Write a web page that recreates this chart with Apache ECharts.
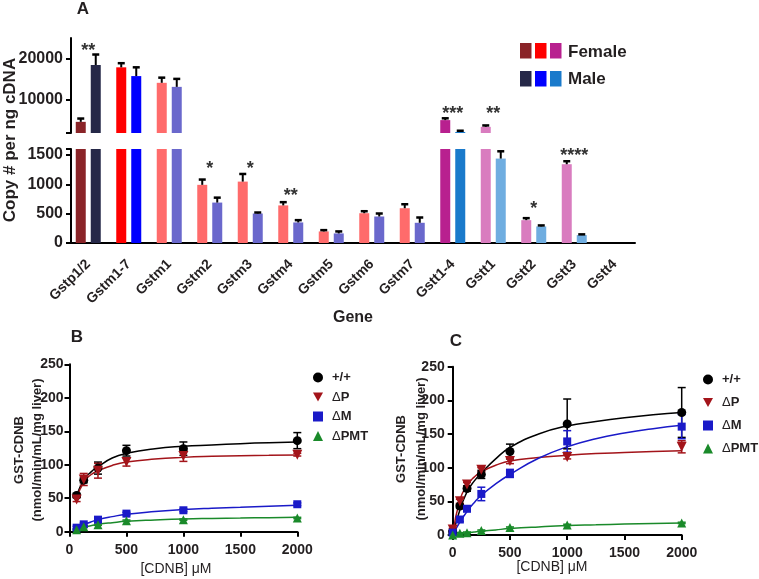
<!DOCTYPE html>
<html><head><meta charset="utf-8">
<script src="https://cdn.jsdelivr.net/npm/echarts@6/dist/echarts.min.js"></script>
<style>html,body{margin:0;padding:0;background:#fff}#c{width:759px;height:579px}</style>
</head><body><div id="c"></div>
<script>
// ---------- Panel A data ----------
const genes = ['Gstp1/2','Gstm1-7','Gstm1','Gstm2','Gstm3','Gstm4','Gstm5','Gstm6','Gstm7','Gstt1-4','Gstt1','Gstt2','Gstt3','Gstt4'];
const femaleCopies = [4700,17900,14150,990,1045,640,197,507,592,5120,3490,389,1341,0];
const femaleErr    = [800,1000,1250,90,130,55,22,34,68,440,340,34,51,0];
const maleCopies   = [18460,15780,13170,688,502,350,163,451,344,2250,1437,282,135,0];
const maleErr      = [2540,2120,1930,84,17,39,34,51,90,300,124,17,12,0];
const starText  = ['**','','','*','*','**','','','','***','**','*','****',''];
const starValue = [21950,0,0,1265,1265,793,0,0,0,6590,6590,584,1486,0];
const topTicks = [10000,20000];
const bottomTicks = [0,500,1000,1500];
const femaleColors = ['#8a2428','#ff0000','#ff6b6b','#ff6b6b','#ff6b6b','#ff6b6b','#ff6b6b','#ff6b6b','#ff6b6b','#b8208f','#d97cbf','#d97cbf','#d97cbf','#d97cbf'];
const maleColors   = ['#262848','#0000ff','#6a68cc','#6a68cc','#6a68cc','#6a68cc','#6a68cc','#6a68cc','#6a68cc','#1a7acb','#6fade0','#6fade0','#6fade0','#6fade0'];

// ---------- Panel B data ----------
const concB = [62.5,125,250,500,1000,2000];
const bWT = [54,77,95,121,124,136],   bWTerr = [3,4,9,8,10,12];
const bP  = [48,78,91,104,113,115],   bPerr  = [3,9,11,6,8,2];
const bM  = [6,11,18,27,32,41],       bMerr  = [2,2,2,2,2,2];
const bPMT = [3,7.5,10.5,16.5,18,20.5], bPMTerr = [1,1,1,1,1,1];
const fitXB = [62.5,125,187.5,250,375,500,750,1000,1250,1500,1750,2000];
const bFitWT  = [54,77,89,97,110,117,124,127.5,129.5,131.5,133,134];
const bFitP   = [50,74,85,91,99,104,108.5,111,112.5,113.5,114,114.5];
const bFitM   = [5,10,14.5,18,22.5,26,30,33,35,36.5,38,39.5];
const bFitPMT = [2.5,6.5,9,11,13.5,15.5,17.5,19,19.8,20.4,21,21.5];

// ---------- Panel C data ----------
const concC = [0,62.5,125,250,500,1000,2000];
const cWT = [5,43,69,90,124,165,182],      cWTerr = [2,3,4,6,11,37,37];
const cP  = [8,50,75,97,110,116,131],      cPerr  = [2,3,3,3,4,3,9];
const cM  = [3.5,23,39,61,91.5,139,161],   cMerr  = [2,3,4,10,6,16,18];
const cPMT = [0,2.5,3.5,6.5,11,15,18],     cPMTerr = [1,1,1,1,1,1,1];
const fitXC = [0,62.5,125,187.5,250,375,500,750,1000,1250,1500,1750,2000];
const cFitWT  = [0,37,64,80,92,113,130,150,162,168.5,174,178.5,182];
const cFitP   = [0,52,74,86,94,103.5,110,115,118.5,121,122.5,124,125];
const cFitM   = [0,19,35,48,59,76,90,114,131,143,151.5,158,163];
const cFitPMT = [0,1.5,3,4.3,5.5,7.6,9.5,12,14,15.2,16.3,17.2,18];

const seriesNames = ['+/+','\u0394P','\u0394M','\u0394PMT'];
const seriesColors = ['#000000','#a3141a','#1a1ac8','#1a8a2a'];

// ---------- helpers ----------
const TXT = '#231f20';
const FONT = '"Liberation Sans", Arial, sans-serif';
const axisLineStyle = {lineStyle:{color:'#000', width:2}};
const axisTickStyle = {lineStyle:{color:'#000', width:2}, length:5, inside:false};
const lblStyle = {color:TXT, fontSize:15, fontWeight:'bold', fontFamily:FONT, formatter: v => String(v)};
const triDown = 'path://M0,0L10,0L5,9Z';

function clampBar(params, api, off) {
  const ci = api.value(0), v = api.value(1), e = api.value(2);
  if (!(e > 0)) return null;
  const cs = params.coordSys;
  const yMin = cs.y, yMax = cs.y + cs.height;
  const b = api.coord([ci, v]), t = api.coord([ci, v + e]);
  let y1 = b[1], y2 = t[1];
  if (y2 > yMax || y1 < yMin) return null;
  const x = b[0] + off;
  const kids = [];
  const showCap = y2 >= yMin;
  y1 = Math.min(y1, yMax); y2 = Math.max(y2, yMin);
  kids.push({type:'line', shape:{x1:x, y1:y1, x2:x, y2:y2}, style:{stroke:'#000', lineWidth:2}});
  if (showCap) kids.push({type:'line', shape:{x1:x-3.5, y1:y2, x2:x+3.5, y2:y2}, style:{stroke:'#000', lineWidth:2.5}});
  return {type:'group', children:kids};
}
function errSeriesA(vals, errs, off, gi) {
  return {
    type:'custom', xAxisIndex:gi, yAxisIndex:gi, z:5,
    data: vals.map((v,i)=>[i, v, errs[i]]),
    renderItem: (p, api) => clampBar(p, api, off)
  };
}
function barSeries(vals, colors, gi) {
  return {
    type:'bar', xAxisIndex:gi, yAxisIndex:gi, barWidth:10, barGap:'50%', clip:true,
    data: vals.map((v,i)=>({value:v, itemStyle:{color:colors[i]}}))
  };
}
function starSeries(gi, top) {
  const d = [];
  genes.forEach((g,i)=>{ if (starText[i] && ((starValue[i] > 1600) === top)) d.push([i, starValue[i]]); });
  return {
    type:'custom', xAxisIndex:gi, yAxisIndex:gi, z:6, data:d,
    renderItem: (p, api) => {
      const ci = api.value(0);
      const pt = api.coord([ci, api.value(1)]);
      return {type:'text', x:pt[0], y:pt[1], style:{text:starText[ci], fill:'#333', font:'bold 18px ' + FONT, align:'center', verticalAlign:'middle', textAlign:'center', textVerticalAlign:'middle'}};
    }
  };
}
function kinSeries(gi, xs, ys, errs, fx, fy, k) {
  const col = seriesColors[k];
  const sym = ['circle','triangle','rect','triangle'][k];
  const size = [9,10,8,9][k];
  return [
    {type:'line', name:'fit'+k+'_'+gi, xAxisIndex:gi, yAxisIndex:gi, smooth:0.5, showSymbol:false, symbol:'none',
     lineStyle:{color:col, width:1.5}, data: fx.map((x,i)=>[x, fy[i]]), z:2, silent:true},
    {type:'custom', xAxisIndex:gi, yAxisIndex:gi, z:3, data: xs.map((x,i)=>[x, ys[i], errs[i]]),
     renderItem:(p, api)=>{
       const x = api.value(0), y = api.value(1), e = api.value(2);
       const a = api.coord([x, y + e]), b = api.coord([x, Math.max(0, y - e)]);
       return {type:'group', children:[
         {type:'line', shape:{x1:a[0], y1:a[1], x2:b[0], y2:b[1]}, style:{stroke:col, lineWidth:1.5}},
         {type:'line', shape:{x1:a[0]-4, y1:a[1], x2:a[0]+4, y2:a[1]}, style:{stroke:col, lineWidth:1.5}},
         {type:'line', shape:{x1:b[0]-4, y1:b[1], x2:b[0]+4, y2:b[1]}, style:{stroke:col, lineWidth:1.5}}
       ]};
     }},
    {type:'scatter', name:seriesNames[k], xAxisIndex:gi, yAxisIndex:gi, symbol:sym, symbolRotate: k===1 ? 180 : 0,
     symbolSize:size, itemStyle:{color:col, opacity:1}, data: xs.map((x,i)=>[x, ys[i]]), z:4}
  ];
}

const series = [
  barSeries(femaleCopies, femaleColors, 0), barSeries(maleCopies, maleColors, 0),
  barSeries(femaleCopies, femaleColors, 1), barSeries(maleCopies, maleColors, 1),
  errSeriesA(femaleCopies, femaleErr, -7.5, 0), errSeriesA(maleCopies, maleErr, 7.5, 0),
  errSeriesA(femaleCopies, femaleErr, -7.5, 1), errSeriesA(maleCopies, maleErr, 7.5, 1),
  starSeries(0, true), starSeries(1, false),
  ...kinSeries(2, concB, bWT, bWTerr, fitXB, bFitWT, 0),
  ...kinSeries(2, concB, bP, bPerr, fitXB, bFitP, 1),
  ...kinSeries(2, concB, bM, bMerr, fitXB, bFitM, 2),
  ...kinSeries(2, concB, bPMT, bPMTerr, fitXB, bFitPMT, 3),
  ...kinSeries(3, concC, cWT, cWTerr, fitXC, cFitWT, 0),
  ...kinSeries(3, concC, cP, cPerr, fitXC, cFitP, 1),
  ...kinSeries(3, concC, cM, cMerr, fitXC, cFitM, 2),
  ...kinSeries(3, concC, cPMT, cPMTerr, fitXC, cFitPMT, 3)
];

const legendData = [
  {name:seriesNames[0], icon:'circle'}, {name:seriesNames[1], icon:triDown},
  {name:seriesNames[2], icon:'rect'}, {name:seriesNames[3], icon:'triangle'}
];
const legendText = {color:TXT, fontSize:13, fontWeight:'bold', fontFamily:FONT, padding:[0,0,0,4],
  rich:{d:{fontSize:13, fontWeight:'normal', fontFamily:FONT, color:TXT}, b:{fontSize:13, fontWeight:'bold', fontFamily:FONT, color:TXT}}};
const legendFmt = n => n.charAt(0) === '\u0394' ? '{d|\u0394}{b|' + n.slice(1) + '}' : n;

function txt(x, y, s, size, opts) {
  return Object.assign({type:'text', x:x, y:y, style:Object.assign({text:s, fill:TXT, font:'bold ' + size + 'px ' + FONT, align:'center', verticalAlign:'middle'}, (opts && opts.style) || {})}, (opts && opts.el) || {});
}

const option = {
  animation:false,
  backgroundColor:'#fff',
  textStyle:{fontFamily:FONT},
  grid:[
    {left:68, top:38, width:567, height:95},
    {left:68, top:149, width:567, height:94},
    {left:69.5, top:364.3, width:227.8, height:167.4},
    {left:452.7, top:366.7, width:229, height:168.3}
  ],
  xAxis:[
    {gridIndex:0, type:'category', data:genes, show:false},
    {gridIndex:1, type:'category', data:genes, axisLine:axisLineStyle,
     axisTick:Object.assign({alignWithLabel:true}, axisTickStyle),
     axisLabel:Object.assign({}, lblStyle, {rotate:45, margin:19, interval:0, fontSize:14, formatter:null})},
    {gridIndex:2, type:'value', min:0, max:2000, interval:500, splitLine:{show:false},
     axisLine:axisLineStyle, axisTick:axisTickStyle, axisLabel:Object.assign({}, lblStyle, {margin:11, fontSize:14})},
    {gridIndex:3, type:'value', min:0, max:2000, interval:500, splitLine:{show:false},
     axisLine:axisLineStyle, axisTick:axisTickStyle, axisLabel:Object.assign({}, lblStyle, {margin:11, fontSize:14})}
  ],
  yAxis:[
    {gridIndex:0, type:'value', min:2000, max:25000, offset:-3, splitLine:{show:false},
     axisLine:Object.assign({show:true}, axisLineStyle),
     axisTick:Object.assign({show:true, customValues:[2000].concat(topTicks)}, axisTickStyle),
     axisLabel:Object.assign({}, lblStyle, {customValues:topTicks, margin:8, fontSize:16})},
    {gridIndex:1, type:'value', min:0, max:1600, offset:-3, splitLine:{show:false},
     axisLine:Object.assign({show:true}, axisLineStyle),
     axisTick:Object.assign({show:true, customValues:bottomTicks.concat([1600])}, axisTickStyle),
     axisLabel:Object.assign({}, lblStyle, {customValues:bottomTicks, margin:8, fontSize:16})},
    {gridIndex:2, type:'value', min:0, max:250, interval:50, splitLine:{show:false},
     axisLine:Object.assign({show:true}, axisLineStyle), axisTick:Object.assign({show:true}, axisTickStyle),
     axisLabel:Object.assign({}, lblStyle, {margin:6, fontSize:14})},
    {gridIndex:3, type:'value', min:0, max:250, interval:50, offset:3, splitLine:{show:false},
     axisLine:Object.assign({show:true}, axisLineStyle), axisTick:Object.assign({show:true}, axisTickStyle),
     axisLabel:Object.assign({}, lblStyle, {margin:5, fontSize:14})}
  ],
  legend:[
    {left:313, top:371, padding:0, orient:'vertical', itemWidth:10, itemHeight:10, itemGap:6.5, selectedMode:false, data:legendData, textStyle:legendText, formatter:legendFmt},
    {left:703, top:373, padding:0, orient:'vertical', itemWidth:10, itemHeight:10, itemGap:10, selectedMode:false, data:legendData, textStyle:legendText, formatter:legendFmt}
  ],
  graphic:[
    txt(83, 9, 'A', 17),
    txt(77, 337, 'B', 17),
    txt(456, 341, 'C', 17),
    txt(353, 318, 'Gene', 16),
    txt(10, 140, 'Copy # per ng cDNA', 17, {el:{rotation:Math.PI/2}}),
    txt(28, 450, 'GST-CDNB\n(nmol/min/mL/mg liver)', 13, {el:{rotation:Math.PI/2}, style:{lineHeight:18}}),
    txt(411.5, 449, 'GST-CDNB\n(nmol/min/mL/mg liver)', 13, {el:{rotation:Math.PI/2}, style:{lineHeight:20}}),
    txt(176, 569, '[CDNB] \u03bcM', 14, {style:{font:'14px ' + FONT}}),
    txt(552, 567, '[CDNB] \u03bcM', 14, {style:{font:'14px ' + FONT}}),
    {type:'rect', shape:{x:520, y:43, width:11.5, height:15.5}, style:{fill:'#8a2428'}},
    {type:'rect', shape:{x:535, y:43, width:11.5, height:15.5}, style:{fill:'#ff0000'}},
    {type:'rect', shape:{x:550, y:43, width:11.5, height:15.5}, style:{fill:'#b8208f'}},
    {type:'rect', shape:{x:520, y:71, width:11.5, height:15.5}, style:{fill:'#262848'}},
    {type:'rect', shape:{x:535, y:71, width:11.5, height:15.5}, style:{fill:'#0000ff'}},
    {type:'rect', shape:{x:550, y:71, width:11.5, height:15.5}, style:{fill:'#1a7acb'}},
    txt(568, 52.5, 'Female', 17, {style:{align:'left'}}),
    txt(568, 79.5, 'Male', 17, {style:{align:'left'}})
  ],
  series: series
};

const chart = echarts.init(document.getElementById('c'), null, {renderer:'canvas'});
chart.setOption(option);
</script>
</body></html>
